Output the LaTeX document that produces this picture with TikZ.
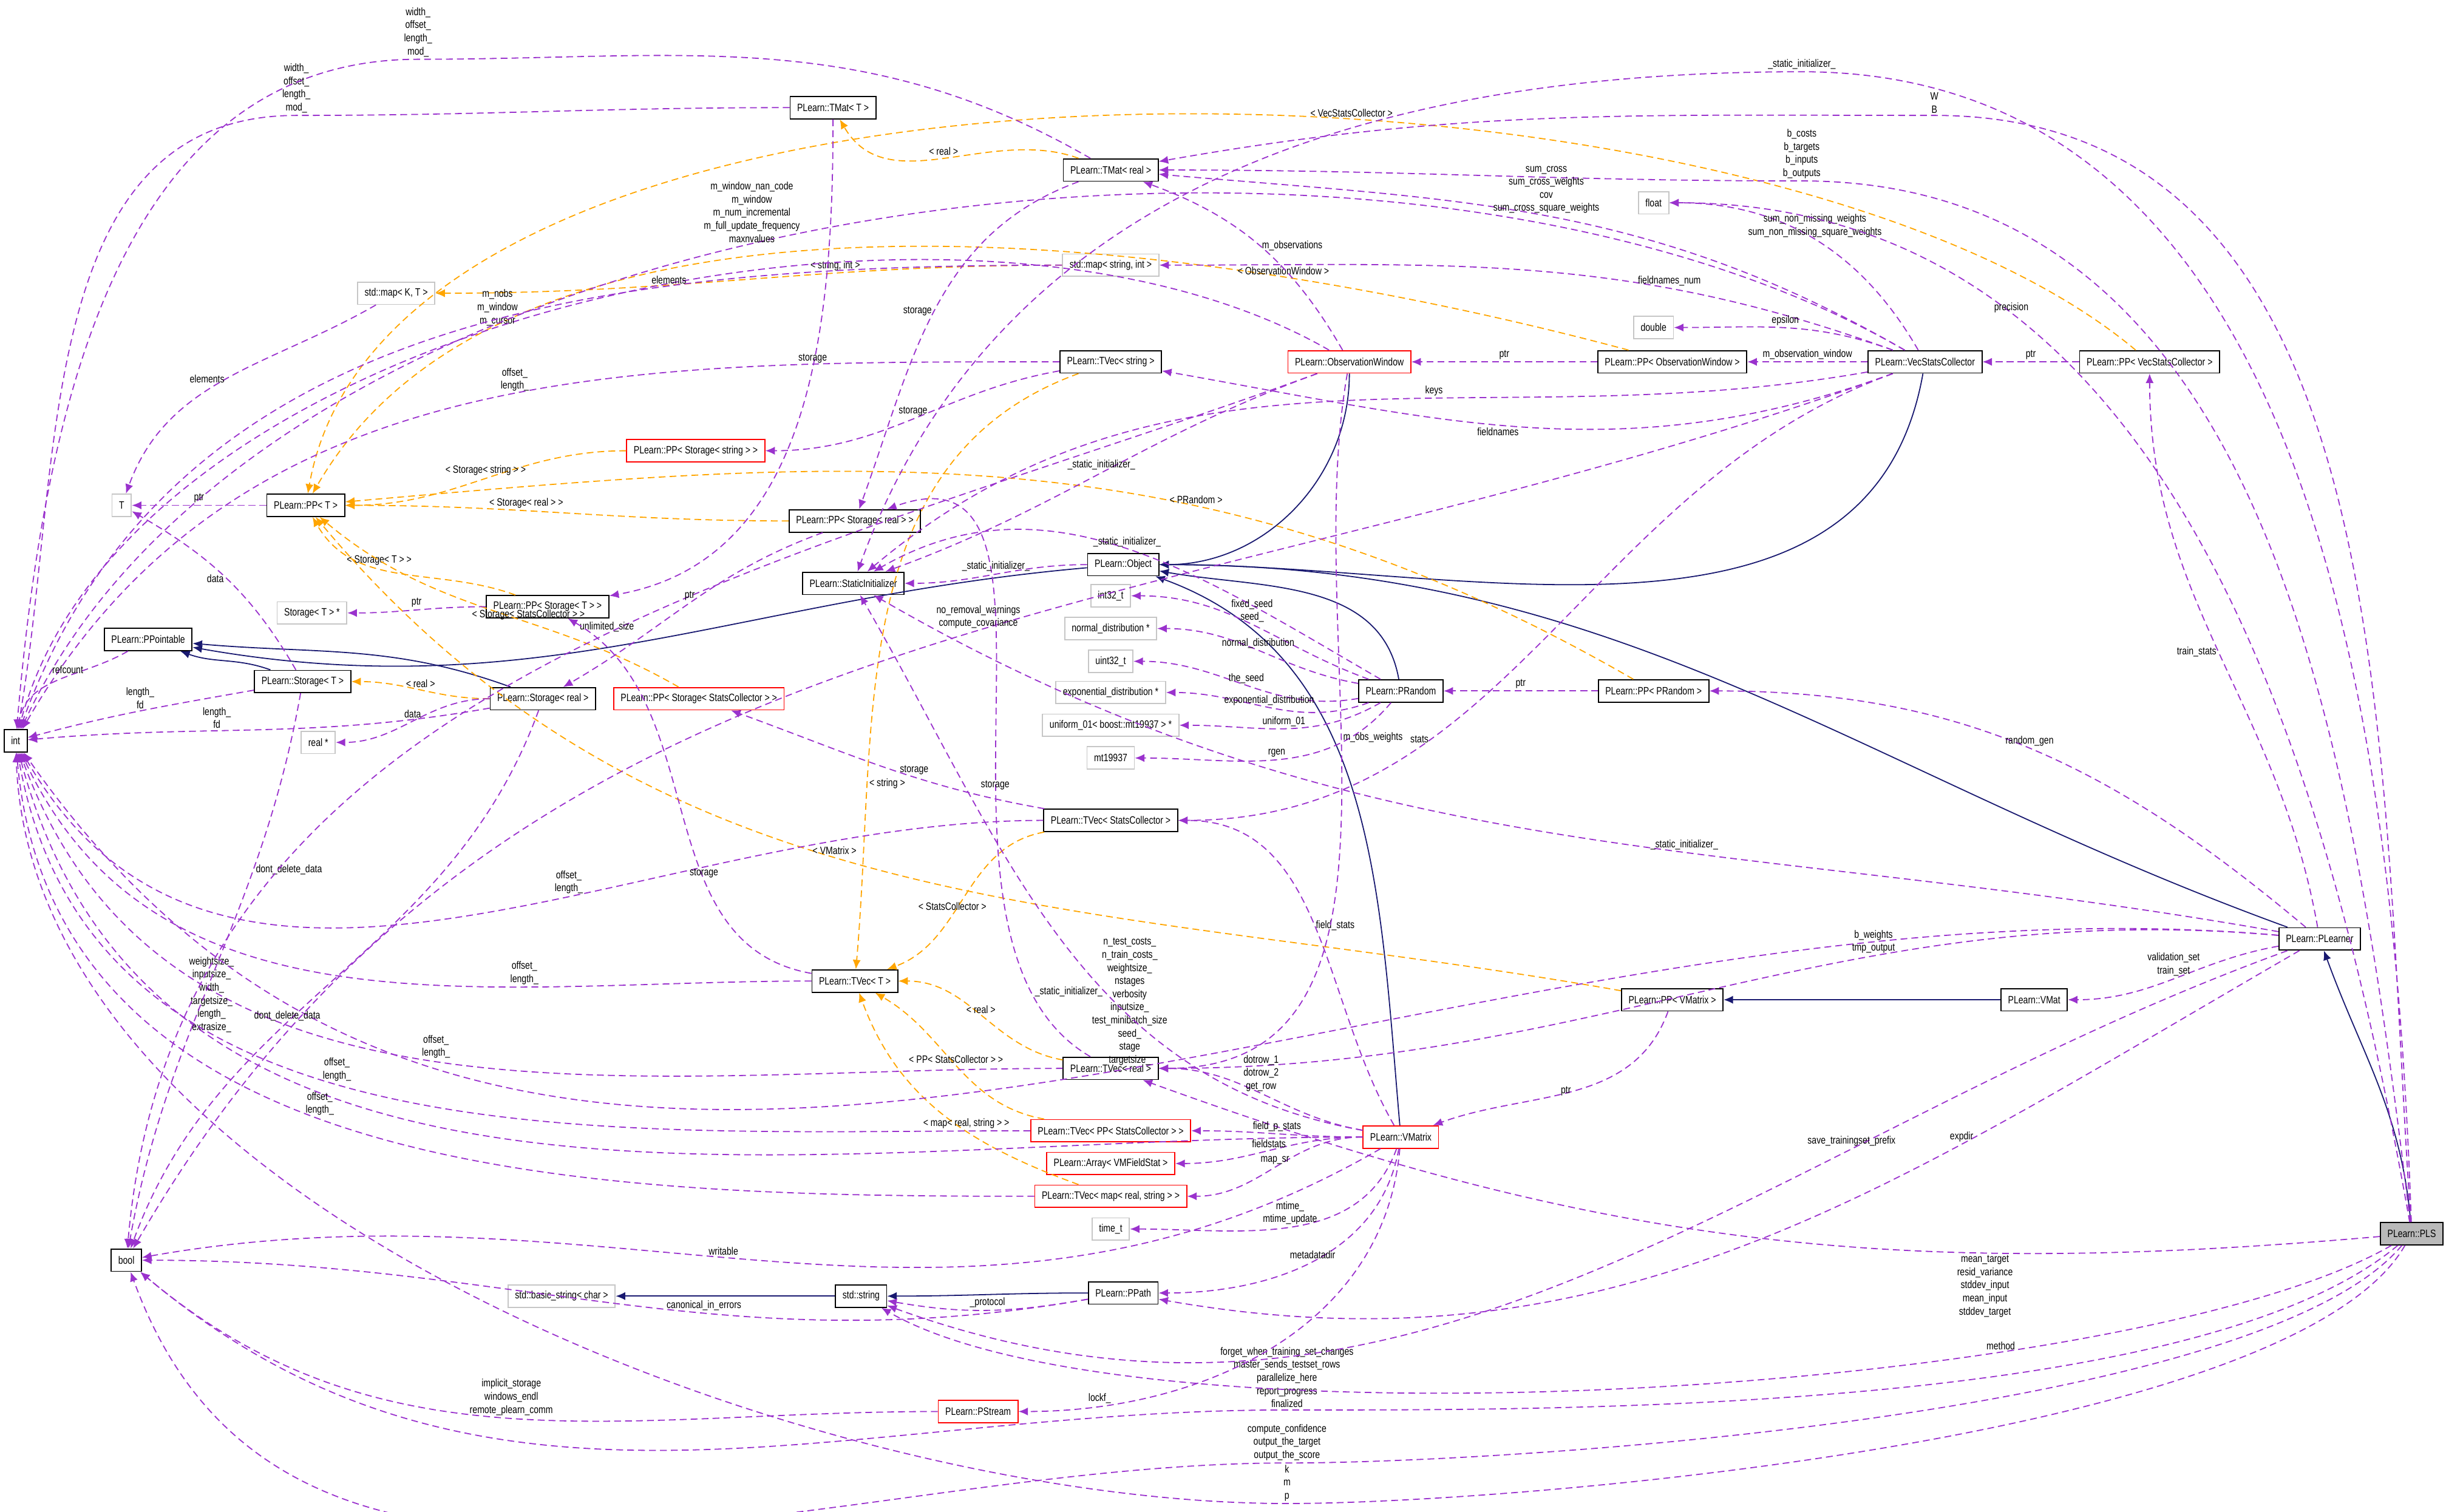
\documentclass[tikz,border=0pt]{standalone}
\usepackage{fontspec}
\setmainfont{Liberation Sans}[FakeStretch=0.8]
\usepackage{tikz}
\usetikzlibrary{arrows.meta}
\definecolor{usecol}{HTML}{9A32CD}
\definecolor{tplcol}{HTML}{FFA500}
\definecolor{inhcol}{HTML}{191970}
\tikzset{ % global config
    x=0.6424pt, y=-0.6424pt,
    every node/.style={font=\fontsize{4.4}{5.4}\selectfont, inner ysep=1pt}, % doxygen text size
    cls/.style={draw, line width=0.45pt, minimum height=9.2pt, inner xsep=2.9pt}, % documented class
    bad/.style={cls, draw=red}, % undocumented class
    ext/.style={draw=gray!45, line width=0.45pt, minimum height=9.2pt, inner xsep=2.9pt}, % external type
    root/.style={cls, fill=gray!55}, % the class of the graph
    lbl/.style={align=center, inner sep=0.8pt}, % member names
    use/.style={draw=usecol, dash pattern=on 2.8pt off 1.7pt, line width=0.45pt, -{Latex[length=3.9pt,width=3.3pt]}, out=180, in=0},
    tpl/.style={use, draw=tplcol},
    inh/.style={draw=inhcol, line width=0.45pt, -{Latex[length=3.9pt,width=3.3pt]}, out=180, in=0},
}
\begin{document}
\begin{tikzpicture}
    \useasboundingbox (0,0) rectangle (1568,969.4);

    % left column
    \node[cls] (tint) at (10,475) {int};
    \node[cls] (tbool) at (81,808) {bool};
    \node[ext] (tT) at (78,324) {T};
    \node[cls] (ppointable) at (95,410) {PLearn::PPointable};
    \node[ext] (mapKT) at (254,188) {std::map< K, T >};
    \node[ext] (storTp) at (200,393) {Storage< T > *};
    \node[cls] (ppT) at (196,324) {PLearn::PP< T >};
    \node[cls] (storT) at (194,437) {PLearn::Storage< T >};
    \node[ext] (realp) at (204,476) {real *};
    \node[cls] (storReal) at (348,448) {PLearn::Storage< real >};
    \node[cls] (ppStorT) at (351,389) {PLearn::PP< Storage< T > >};
    \node[ext] (basicstr) at (360,831) {std::basic\_string< char >};

    % middle column
    \node[cls] (tmatT) at (534,69) {PLearn::TMat< T >};
    \node[bad] (ppStorStr) at (446,289) {PLearn::PP< Storage< string > >};
    \node[cls] (ppStorReal) at (548,334) {PLearn::PP< Storage< real > >};
    \node[cls] (statinit) at (547,374) {PLearn::StaticInitializer};
    \node[bad] (ppStorSC) at (448,448) {PLearn::PP< Storage< StatsCollector > >};
    \node[cls] (tvecT) at (548,629) {PLearn::TVec< T >};
    \node[cls] (stdstr) at (552,831) {std::string};
    \node[bad] (pstream) at (627,905) {PLearn::PStream};

    % types column
    \node[cls] (tmatReal) at (712,109) {PLearn::TMat< real >};
    \node[ext] (mapSI) at (712,170) {std::map< string, int >};
    \node[cls] (tvecStr) at (712,232) {PLearn::TVec< string >};
    \node[cls] (object) at (720,362) {PLearn::Object};
    \node[ext] (i32) at (712,382) {int32\_t};
    \node[ext] (normd) at (712,403) {normal\_distribution *};
    \node[ext] (u32) at (712,424) {uint32\_t};
    \node[ext] (expd) at (712,444) {exponential\_distribution *};
    \node[ext] (unif) at (712,465) {uniform\_01< boost::mt19937 > *};
    \node[ext] (mt) at (712,486) {mt19937};
    \node[cls] (tvecSC) at (712,526) {PLearn::TVec< StatsCollector >};
    \node[cls] (tvecReal) at (712,685) {PLearn::TVec< real >};
    \node[bad] (tvecPPSC) at (712,725) {PLearn::TVec< PP< StatsCollector > >};
    \node[bad] (arrVMFS) at (712,746) {PLearn::Array< VMFieldStat >};
    \node[bad] (tvecMap) at (712,767) {PLearn::TVec< map< real, string > >};
    \node[ext] (timet) at (712,788) {time\_t};
    \node[cls] (ppath) at (720,829) {PLearn::PPath};

    % right part
    \node[bad] (obswin) at (865,232) {PLearn::ObservationWindow};
    \node[cls] (prandom) at (898,443) {PLearn::PRandom};
    \node[bad] (vmatrix) at (898,729) {PLearn::VMatrix};
    \node[ext] (tfloat) at (1060,130) {float};
    \node[ext] (tdouble) at (1060,210) {double};
    \node[cls] (ppObsWin) at (1072,232) {PLearn::PP< ObservationWindow >};
    \node[cls] (ppPrandom) at (1060,443) {PLearn::PP< PRandom >};
    \node[cls] (ppVMatrix) at (1072,641) {PLearn::PP< VMatrix >};
    \node[cls] (vsc) at (1234,232) {PLearn::VecStatsCollector};
    \node[cls] (vmat) at (1304,641) {PLearn::VMat};
    \node[cls] (ppVsc) at (1378,232) {PLearn::PP< VecStatsCollector >};
    \node[cls] (plearner) at (1487,602) {PLearn::PLearner};
    \node[root] (pls) at (1546,791) {PLearn::PLS};

    % bends of the long connectors
    \coordinate (viaTmatT) at (190,74);
    \coordinate (viaTmatReal) at (268,38);
    \coordinate (viaStatic) at (1155,46);
    \coordinate (viaWB) at (1240,74);
    \coordinate (viaCosts) at (1155,116);
    \coordinate (viaForget) at (825,904);
    \coordinate (viaConf) at (825,938);
    \coordinate (viaKmp) at (825,964);

    % inheritance
    \draw (pls) edge[inh, out=95, in=-70] (plearner)
    (plearner) edge[inh, out=160, in=0] (object)
    (vsc) edge[inh, out=-100, in=0] (object)
    (obswin) edge[inh, out=-90, in=0] (object)
    (prandom) edge[inh, out=100, in=-10] (object)
    (vmatrix) edge[inh, out=95, in=-20] (object)
    (object) edge[inh, out=185, in=-10] (ppointable)
    (storT) edge[inh, out=160, in=-20] (ppointable)
    (storReal) edge[inh, out=160, in=-5] (ppointable)
    (vmat) edge[inh] (ppVMatrix)
    (stdstr) edge[inh] (basicstr)
    (ppath) edge[inh] (stdstr);

    % template instances
    \draw (tmatReal) edge[tpl, out=160, in=-60] node[lbl, above]{< real >} (tmatT)
    (mapSI) edge[tpl, out=180, in=0] node[lbl, above, pos=0.35]{< string, int >} (mapKT)
    (storReal) edge[tpl] node[lbl, above]{< real >} (storT)
    (ppStorStr) edge[tpl] node[lbl, above]{< Storage< string > >} (ppT)
    (ppStorReal) edge[tpl] node[lbl, above, pos=0.6]{< Storage< real > >} (ppT)
    (ppStorT) edge[tpl, out=160, in=-60] node[lbl, above, pos=0.6]{< Storage< T > >} (ppT)
    (ppStorSC) edge[tpl, out=150, in=-40] node[lbl, above, pos=0.4]{< Storage< StatsCollector > >} (ppT)
    (ppObsWin) edge[tpl, out=165, in=60, looseness=0.8] node[lbl, above, pos=0.25]{< ObservationWindow >} (ppT)
    (ppPrandom) edge[tpl, out=150, in=5] node[lbl, above, pos=0.35]{< PRandom >} (ppT)
    (ppVsc) edge[tpl, out=140, in=80, looseness=0.7] node[lbl, above, pos=0.4]{< VecStatsCollector >} (ppT)
    (ppVMatrix) edge[tpl, out=170, in=-50] node[lbl, above, pos=0.55]{< VMatrix >} (ppT)
    (tvecStr) edge[tpl, out=200, in=85] node[lbl, pos=0.75, right]{< string >} (tvecT)
    (tvecSC) edge[tpl, out=190, in=20] node[lbl, above, pos=0.6]{< StatsCollector >} (tvecT)
    (tvecReal) edge[tpl, out=170, in=0] node[lbl, above]{< real >} (tvecT)
    (tvecPPSC) edge[tpl, out=170, in=-30] node[lbl, above]{< PP< StatsCollector > >} (tvecT)
    (tvecMap) edge[tpl, out=160, in=-70] node[lbl, above, pos=0.4]{< map< real, string > >} (tvecT);

    % members of type int
    \draw[use] (tmatT) to (viaTmatT) node[lbl, above]{width\_\\offset\_\\length\_\\mod\_} to[out=180, in=80] (tint);
    \draw[use] (tmatReal) to[out=150, in=0] (viaTmatReal) node[lbl, above]{width\_\\offset\_\\length\_\\mod\_} to[out=180, in=85] (tint);
    \draw (obswin) edge[use, out=150, in=75, looseness=0.8] node[lbl, pos=0.55, above]{m\_nobs\\m\_window\\m\_cursor} (tint)
    (mapSI) edge[use, out=180, in=70] node[lbl, pos=0.3, above]{elements} (tint)
    (vsc) edge[use, out=150, in=65, looseness=0.8] node[lbl, pos=0.55, above]{m\_window\_nan\_code\\m\_window\\m\_num\_incremental\\m\_full\_update\_frequency\\maxnvalues} (tint)
    (tvecStr) edge[use, out=180, in=60] node[lbl, pos=0.45, above]{offset\_\\length\_} (tint)
    (ppointable) edge[use, out=-150, in=80] node[lbl, pos=0.3, left]{refcount} (tint)
    (storT) edge[use, out=190, in=15] node[lbl, above]{length\_\\fd} (tint)
    (storReal) edge[use, out=190, in=5] node[lbl, pos=0.6, above]{length\_\\fd} (tint)
    (tvecSC) edge[use, out=180, in=-60] node[lbl, pos=0.4, above]{offset\_\\length\_} (tint)
    (tvecT) edge[use, out=180, in=-65] node[lbl, pos=0.3, above]{offset\_\\length\_} (tint)
    (tvecReal) edge[use, out=180, in=-70] node[lbl, pos=0.5, above]{offset\_\\length\_} (tint)
    (vmatrix) edge[use, out=180, in=-75] node[lbl, pos=0.75, above]{weightsize\_\\inputsize\_\\width\_\\targetsize\_\\length\_\\extrasize\_} (tint)
    (tvecPPSC) edge[use, out=180, in=-80] node[lbl, pos=0.55, above]{offset\_\\length\_} (tint)
    (tvecMap) edge[use, out=180, in=-85] node[lbl, pos=0.55, above]{offset\_\\length\_} (tint)
    (plearner) edge[use, out=175, in=-55] node[lbl, pos=0.45, above]{n\_test\_costs\_\\n\_train\_costs\_\\weightsize\_\\nstages\\verbosity\\inputsize\_\\test\_minibatch\_size\\seed\_\\stage\\targetsize\_} (tint);
    \draw[use] (pls) to[out=-120, in=0, looseness=0.5] (viaKmp) node[lbl, above]{k\\m\\p} to[out=180, in=-88, looseness=0.8] (tint);

    % members of type bool
    \draw (storT) edge[use, out=-100, in=80] node[lbl, pos=0.3, right]{dont\_delete\_data} (tbool)
    (storReal) edge[use, out=-110, in=70] node[lbl, pos=0.6, above]{dont\_delete\_data} (tbool)
    (obswin) edge[use, out=200, in=85] node[lbl, pos=0.45, above]{unlimited\_size} (tbool)
    (vsc) edge[use, out=200, in=60] node[lbl, pos=0.45, above]{no\_removal\_warnings\\compute\_covariance} (tbool)
    (vmatrix) edge[use, out=-150, in=10] node[lbl, pos=0.55, above]{writable} (tbool)
    (ppath) edge[use, out=190, in=0] node[lbl, pos=0.4, above]{canonical\_in\_errors} (tbool)
    (pstream) edge[use, out=180, in=-40] node[lbl, pos=0.5, above]{implicit\_storage\\windows\_endl\\remote\_plearn\_comm} (tbool);
    \draw[use] (pls) to[out=-140, in=0, looseness=0.6] (viaForget) node[lbl, above]{forget\_when\_training\_set\_changes\\master\_sends\_testset\_rows\\parallelize\_here\\report\_progress\\finalized} to[out=180, in=-40] (tbool);
    \draw[use] (pls) to[out=-130, in=0, looseness=0.5] (viaConf) node[lbl, above]{compute\_confidence\\output\_the\_target\\output\_the\_score} to[out=180, in=-70] (tbool);

    % members of the other types
    \draw (ppT) edge[use] node[lbl, above]{ptr} (tT)
    (storT) edge[use, out=120, in=-30] node[lbl, pos=0.5, left]{data} (tT)
    (mapKT) edge[use, out=-150, in=70] node[lbl, pos=0.5, left]{elements} (tT)
    (ppStorT) edge[use] node[lbl, above]{ptr} (storTp)
    (storReal) edge[use] node[lbl, above]{data} (realp)
    (ppStorReal) edge[use, out=200, in=30] node[lbl, pos=0.5, above]{ptr} (storReal)
    (tmatT) edge[use, out=-90, in=10] node[lbl, pos=0.4, above]{storage} (ppStorT)
    (tvecT) edge[use, out=170, in=-30] node[lbl, pos=0.35, above]{storage} (ppStorT)
    (tvecStr) edge[use, out=190, in=0] node[lbl, pos=0.5, above]{storage} (ppStorStr)
    (tmatReal) edge[use, out=200, in=70] node[lbl, pos=0.5, left]{storage} (ppStorReal)
    (tvecReal) edge[use, out=150, in=20] node[lbl, pos=0.4, above]{storage} (ppStorReal)
    (tvecSC) edge[use, out=170, in=-20] node[lbl, pos=0.4, above]{storage} (ppStorSC)
    (obswin) edge[use, out=200, in=20] node[lbl, pos=0.5, above]{\_static\_initializer\_} (statinit)
    (prandom) edge[use, out=150, in=30] node[lbl, pos=0.5, above]{\_static\_initializer\_} (statinit)
    (object) edge[use] node[lbl, above]{\_static\_initializer\_} (statinit)
    (vsc) edge[use, out=190, in=40] node[lbl, pos=0.4, above]{keys} (statinit)
    (plearner) edge[use, out=170, in=-30] node[lbl, pos=0.4, above]{\_static\_initializer\_} (statinit)
    (vmatrix) edge[use, out=170, in=-60] node[lbl, pos=0.4, left]{\_static\_initializer\_} (statinit);
    \draw[use] (pls) to[out=92, in=0] (viaStatic) node[lbl, above]{\_static\_initializer\_} to[out=180, in=70] (statinit);
    \draw[use] (pls) to[out=94, in=0] (viaWB) node[lbl, above]{W\\B} to[out=180, in=10] (tmatReal);
    \draw[use] (pls) to[out=97, in=0] (viaCosts) node[lbl, above]{b\_costs\\b\_targets\\b\_inputs\\b\_outputs} to[out=180, in=0] (tmatReal);
    \draw (vsc) edge[use, out=150, in=-5] node[lbl, pos=0.5, above]{sum\_cross\\sum\_cross\_weights\\cov\\sum\_cross\_square\_weights} (tmatReal)
    (obswin) edge[use, out=120, in=-20] node[lbl, pos=0.5, right]{m\_observations} (tmatReal)
    (vsc) edge[use, out=120, in=0] node[lbl, pos=0.5, above]{sum\_non\_missing\_weights\\sum\_non\_missing\_square\_weights} (tfloat)
    (pls) edge[use, out=100, in=0] node[lbl, pos=0.72, above]{precision} (tfloat)
    (vsc) edge[use, out=160, in=0] node[lbl, pos=0.3, above]{fieldnames\_num} (mapSI)
    (vsc) edge[use, out=160, in=0] node[lbl, pos=0.5, above]{epsilon} (tdouble)
    (vsc) edge[use, out=200, in=-10] node[lbl, pos=0.55, below]{fieldnames} (tvecStr)
    (vsc) edge[use] node[lbl, above]{m\_observation\_window} (ppObsWin)
    (ppObsWin) edge[use] node[lbl, above]{ptr} (obswin)
    (ppVsc) edge[use] node[lbl, above]{ptr} (vsc)
    (plearner) edge[use, out=100, in=-90] node[lbl, pos=0.5, left]{train\_stats} (ppVsc)
    (plearner) edge[use, out=140, in=0] node[lbl, pos=0.5, above]{random\_gen} (ppPrandom)
    (ppPrandom) edge[use] node[lbl, above]{ptr} (prandom)
    (prandom) edge[use, out=160, in=0] node[lbl, pos=0.5, above]{fixed\_seed\\seed\_} (i32)
    (prandom) edge[use, out=170, in=0] node[lbl, pos=0.5, above]{normal\_distribution} (normd)
    (prandom) edge[use, out=190, in=0] node[lbl, pos=0.5, above]{the\_seed} (u32)
    (prandom) edge[use, out=200, in=0] node[lbl, pos=0.5, above]{exponential\_distribution} (expd)
    (prandom) edge[use, out=210, in=0] node[lbl, pos=0.5, above]{uniform\_01} (unif)
    (prandom) edge[use, out=230, in=0] node[lbl, pos=0.5, above]{rgen} (mt)
    (vsc) edge[use, out=200, in=0] node[lbl, pos=0.7, above]{stats} (tvecSC)
    (vmatrix) edge[use, out=120, in=0] node[lbl, pos=0.5, right]{field\_stats} (tvecSC)
    (obswin) edge[use, out=-100, in=0] node[lbl, pos=0.4, right]{m\_obs\_weights} (tvecReal)
    (plearner) edge[use, out=175, in=0] node[lbl, pos=0.35, above]{b\_weights\\tmp\_output} (tvecReal)
    (pls) edge[use, out=185, in=-20] node[lbl, pos=0.3, below]{mean\_target\\resid\_variance\\stddev\_input\\mean\_input\\stddev\_target} (tvecReal)
    (vmatrix) edge[use, out=170, in=0] node[lbl, pos=0.5, above]{dotrow\_1\\dotrow\_2\\get\_row} (tvecReal)
    (plearner) edge[use, out=190, in=0] node[lbl, pos=0.5, above]{validation\_set\\train\_set} (vmat)
    (ppVMatrix) edge[use, out=-110, in=20] node[lbl, pos=0.5, left]{ptr} (vmatrix)
    (vmatrix) edge[use] node[lbl, above]{field\_p\_stats} (tvecPPSC)
    (vmatrix) edge[use] node[lbl, above]{fieldstats} (arrVMFS)
    (vmatrix) edge[use] node[lbl, above]{map\_sr} (tvecMap)
    (vmatrix) edge[use, out=-110, in=0] node[lbl, pos=0.5, above]{mtime\_\\mtime\_update} (timet)
    (vmatrix) edge[use, out=-100, in=0] node[lbl, pos=0.5, above]{metadatadir} (ppath)
    (plearner) edge[use, out=-150, in=-10] node[lbl, pos=0.3, above]{expdir} (ppath)
    (vmatrix) edge[use, out=-95, in=0] node[lbl, pos=0.85, above]{lockf\_} (pstream)
    (ppath) edge[use, out=190, in=-10] node[lbl, pos=0.5, above]{\_protocol} (stdstr)
    (plearner) edge[use, out=-160, in=-20] node[lbl, pos=0.3, above]{save\_trainingset\_prefix} (stdstr)
    (pls) edge[use, out=-150, in=-30, looseness=0.5] node[lbl, pos=0.3, above]{method} (stdstr);

\end{tikzpicture}
\end{document}
